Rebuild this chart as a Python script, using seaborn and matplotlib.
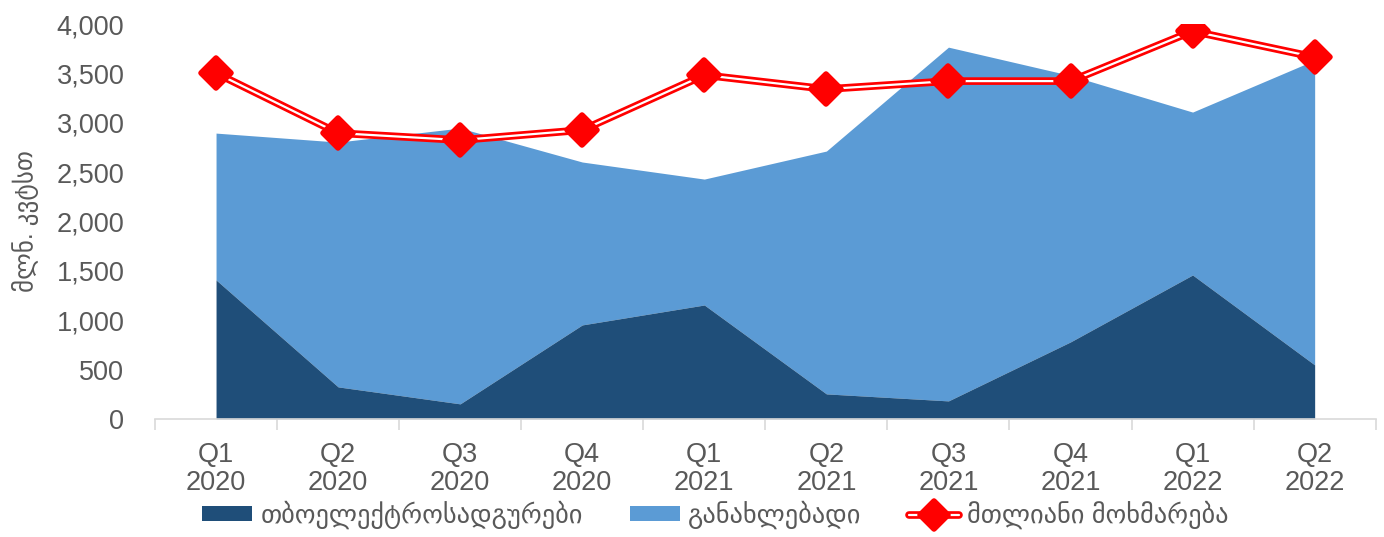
import numpy as np
import matplotlib
matplotlib.use("Agg")
import matplotlib.pyplot as plt
from matplotlib.lines import Line2D
from matplotlib.patches import Patch
from matplotlib.markers import MarkerStyle
import seaborn as sns

# data (million kWh)
quarters = ["Q1\n2020", "Q2\n2020", "Q3\n2020", "Q4\n2020", "Q1\n2021",
            "Q2\n2021", "Q3\n2021", "Q4\n2021", "Q1\n2022", "Q2\n2022"]
thermal = [1408, 324, 152, 952, 1154, 253, 182, 780, 1458, 547]
renewable = [1488, 2481, 2795, 1651, 1276, 2461, 3585, 2700, 1651, 3088]
total_consumption = [3504, 2896, 2825, 2927, 3484, 3342, 3423, 3423, 3929, 3666]

label_thermal = "თბოელექტროსადგურები"
label_renew = "განახლებადი"
label_total = "მთლიანი მოხმარება"
ylabel = "მლნ. კვტსთ"

sns.set_theme(style="white")
plt.rcParams["font.family"] = ["Liberation Sans", "DejaVu Sans"]

dark_blue = "#1F4E79"
light_blue = "#5B9BD5"
red = "#FF0000"
text_gray = "#595959"

x = np.arange(len(quarters))
stack_top = np.array(thermal) + np.array(renewable)

fig = plt.figure(figsize=(13.84, 5.37), dpi=100)
ax = fig.add_axes([0.112, 0.22, 0.882, 0.735])

ax.fill_between(x, 0, thermal, color=dark_blue, linewidth=0, zorder=2)
ax.fill_between(x, thermal, stack_top, color=light_blue, linewidth=0, zorder=1)

# double red line with white core
sns.lineplot(x=x, y=total_consumption, ax=ax, color=red, linewidth=5.5, zorder=3)
sns.lineplot(x=x, y=total_consumption, ax=ax, color="white", linewidth=1.6, zorder=4)
diamond = MarkerStyle("D", joinstyle="round")
ax.plot(x, total_consumption, linestyle="none", marker=diamond, markersize=15,
        markerfacecolor=red, markeredgecolor=red, markeredgewidth=4, zorder=5)

ax.set_xlim(-0.5, len(quarters) - 0.5)
ax.set_ylim(0, 4000)
ax.set_yticks(range(0, 4001, 500))
ax.set_yticklabels([f"{v:,}" for v in range(0, 4001, 500)])
ax.set_xticks(x)
ax.set_xticklabels(quarters, linespacing=1.1)
ax.set_xticks(np.arange(-0.5, len(quarters)), minor=True)
ax.tick_params(axis="x", which="major", length=0, pad=17, labelsize=19.5, labelcolor=text_gray)
ax.tick_params(axis="x", which="minor", length=8, width=1.2, color="#D9D9D9", bottom=True)
ax.tick_params(axis="y", length=0, pad=22, labelsize=19.5, labelcolor=text_gray)

for side in ["top", "right", "left"]:
    ax.spines[side].set_visible(False)
ax.spines["bottom"].set_color("#D9D9D9")
ax.spines["bottom"].set_linewidth(1.2)

ax.set_ylabel(ylabel, fontsize=18, color=text_gray, labelpad=13)

handles = [
    Patch(facecolor=dark_blue, edgecolor="none"),
    Patch(facecolor=light_blue, edgecolor="none"),
    (Line2D([], [], color=red, linewidth=5.5),
     Line2D([], [], color="white", linewidth=1.6),
     Line2D([], [], linestyle="none", marker=diamond, markersize=14,
            markerfacecolor=red, markeredgecolor=red, markeredgewidth=4)),
]
fig.legend(handles, [label_thermal, label_renew, label_total],
           loc="lower center", bbox_to_anchor=(0.517, -0.03), ncol=3, frameon=False,
           fontsize=19, labelcolor=text_gray, handlelength=1.9, handleheight=0.5,
           columnspacing=1.8, handletextpad=0.3)

fig.savefig("out.png", dpi=100)
